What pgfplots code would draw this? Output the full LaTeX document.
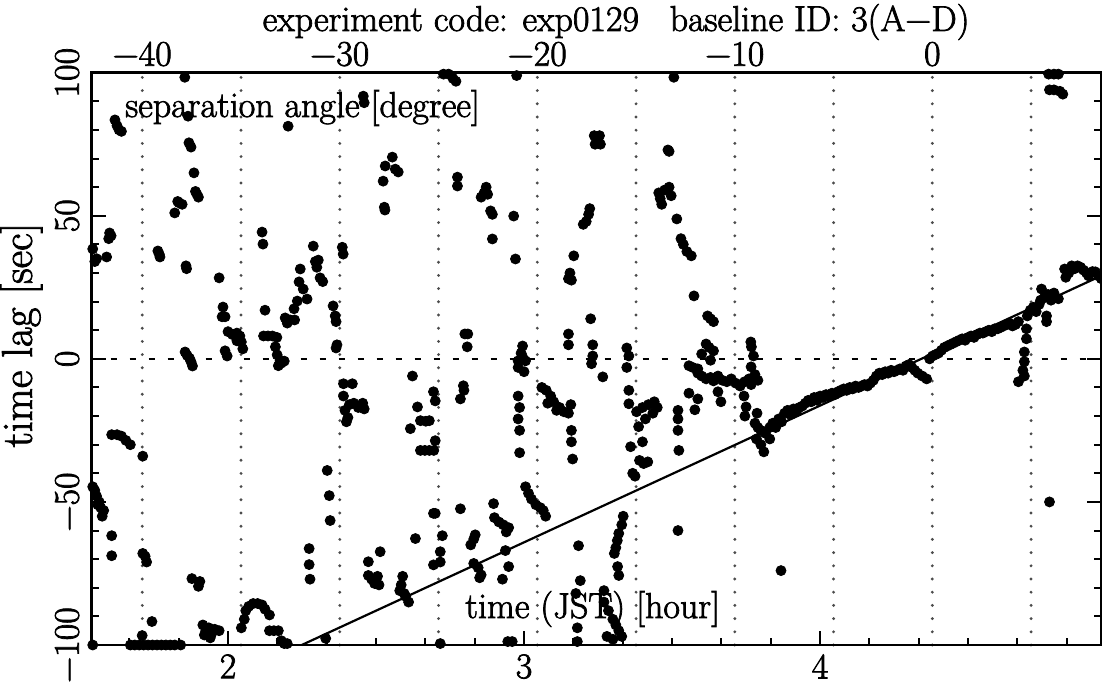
\documentclass[border=0pt]{standalone}
\usepackage{fontspec}
\setmainfont{Latin Modern Roman}[FakeBold=2]
\usepackage{pgfplots}
\pgfplotsset{compat=1.18}
\begin{document}
\fontsize{18}{21}\selectfont
\begin{tikzpicture}
% ---------- top axis: separation angle, dotted grid ----------
\begin{axis}[
  scale only axis, width=504.65pt, height=286.15pt,
  at={(0,0)}, anchor=south west,
  xmin=-42.56, xmax=8.54, ymin=-100, ymax=100,
  axis x line*=top, axis y line=none,
  x axis line style={line width=1.2pt},
  xtick={-40,-35,...,5},
  xticklabels={−40,,−30,,−20,,−10,,0,},
  major tick length=0pt,
  xticklabel style={anchor=south, inner sep=0pt, yshift=3pt},
  xmajorgrids,
  grid style={black!70, line width=1.6pt, line cap=round, dash pattern=on 0pt off 6.6pt},
]
\end{axis}
% ---------- labels inside / outside ----------
\node[anchor=base] at (262.2pt,307pt) {experiment code: exp0129\hspace{0.55em} baseline ID: 3(A−D)};
\node[anchor=base west, inner sep=0pt] at (16.6pt,264pt) {separation angle [degree]};
\node[anchor=base west, inner sep=0pt] at (186.6pt,13.5pt) {time (JST) [hour]};
\node[rotate=90, anchor=center, font=\fontsize{21.5}{24}\selectfont] at (-35.3pt,155pt) {time lag [sec]};
% ---------- main axis ----------
\begin{axis}[
  scale only axis, width=504.65pt, height=286.15pt,
  at={(0,0)}, anchor=south west,
  xmin=1.5395, xmax=4.949, ymin=-100, ymax=100,
  clip=false,
  axis line style={line width=1.3pt},
  tick style={line width=1pt, black},
  tick align=inside,
  xtick pos=bottom, ytick pos=both, yticklabel pos=left,
  xtick={2,3,4}, xticklabels={2,3,4},
  minor xtick={1.6667,1.8333,2.1667,2.3333,2.5,2.6667,2.8333,3.1667,3.3333,3.5,3.6667,3.8333,4.1667,4.3333,4.5,4.6667,4.8333},
  ytick={-100,-50,0,50,100}, yticklabels={−100,−50,0,50,100},
  minor ytick={-90,-80,-70,-60,-40,-30,-20,-10,10,20,30,40,60,70,80,90},
  major tick length=7pt, minor tick length=3.5pt,
  xticklabel style={anchor=north, inner sep=0pt, yshift=-4.5pt},
  yticklabel style={rotate=90, anchor=south, inner xsep=0pt, inner ysep=6pt},
]
\addplot[black, line width=1.3pt, dash pattern=on 3pt off 6.5pt] coordinates {(1.5395,0) (4.949,0)};
\addplot[black, line width=1.1pt] coordinates {(2.249,-100) (4.949,29.0)};
\addplot[only marks, mark=*, mark size=2.5pt, black] coordinates {
(1.543,38.4) (1.55,34) (1.556,35) (1.59,35.6) (1.597,42) (1.60,44) (1.605,43)
(1.618,83.5) (1.625,81.5) (1.632,80) (1.64,79.5)
(1.543,-44.7) (1.55,-46) (1.556,-48) (1.56,-51) (1.57,-52) (1.58,-53) (1.575,-55) (1.565,-50)
(1.607,-61.8) (1.607,-68.8) (1.543,-100)
(1.607,-26.5) (1.625,-26.5) (1.64,-27) (1.655,-28.5) (1.67,-30)
(1.712,-34) (1.712,-68) (1.72,-69) (1.725,-71) (1.743,-91.8) (1.71,-96.7)
(1.67,-100) (1.685,-100) (1.70,-100) (1.715,-100) (1.73,-100) (1.745,-100) (1.76,-100) (1.775,-100) (1.79,-100) (1.805,-100) (1.82,-100) (1.84,-100)
(1.763,37.7) (1.77,35.6) (1.768,36.5)
(1.854,98.4)
(1.865,84.8) (1.868,75.5) (1.875,74) (1.885,65) (1.89,58.5) (1.9,56.5) (1.895,57.5)
(1.83,55) (1.845,54) (1.835,54.5) (1.82,51)
(1.858,32.5) (1.86,31.5)
(1.855,2.4) (1.862,1.2) (1.87,0.2) (1.875,-1) (1.88,-2.5)
(1.878,-76.8) (1.905,-77.8) (1.9,-79.5)
(1.915,-93) (1.925,-95) (1.935,-94) (1.945,-96) (1.955,-94.5) (1.97,-95) (1.92,-96.5) (1.94,-97.5)
(1.97,28.3) (1.983,18.1) (1.98,14.7) (1.99,14.7) (2.0,9.5) (2.015,8.5) (2.03,9) (2.04,8) (2.03,6.3) (2.045,5.9) (2.05,3.5) (1.99,2.8) (1.997,1)
(2.115,44.3) (2.118,40.1) (2.125,17)
(2.12,8) (2.135,8) (2.15,8) (2.165,7.5) (2.16,4.2) (2.166,1.4)
(2.176,-0.5) (2.17,-2.4) (2.18,-1.5) (2.19,-0.8)
(2.203,81.3)
(2.055,-91) (2.06,-88) (2.07,-86.5) (2.085,-85.5) (2.1,-85.5) (2.115,-86) (2.125,-87.5) (2.14,-89.5) (2.045,-94)
(2.14,-95) (2.155,-95) (2.17,-95)
(2.18,-98.5) (2.19,-99.5) (2.2,-99.5)
(2.244,31.4) (2.24,26.9) (2.254,24.4) (2.267,20.9) (2.234,20.2) (2.223,17.5) (2.21,13.6) (2.225,13.6) (2.193,14.3) (2.2,12.5)
(2.288,39.4) (2.295,34) (2.305,34.5) (2.30,32) (2.311,28.3) (2.32,27)
(2.386,39) (2.389,36.6) (2.355,18.5) (2.362,15) (2.365,13) (2.368,4.9) (2.365,3.8)
(2.274,-66.3) (2.274,-71.9) (2.277,-77)
(2.335,-39) (2.342,-47.8) (2.345,-56.5)
(2.33,-97.7)
(2.39,-8.7) (2.42,-8.7)
(2.395,-18) (2.41,-16) (2.425,-15.5) (2.44,-17) (2.455,-15.5) (2.46,-17.5) (2.4,-22) (2.405,-20.5) (2.39,-13)
(2.457,91.8) (2.46,89.5)
(2.555,70.5) (2.531,67.4) (2.565,66.3) (2.575,65.3) (2.524,62.1) (2.528,53) (2.53,52)
(2.474,-70.9) (2.474,-75.7) (2.485,-77) (2.495,-78.5) (2.505,-76) (2.51,-79) (2.514,-67.4)
(2.59,-76) (2.585,-79) (2.58,-81) (2.6,-83) (2.61,-85) (2.595,-82)
(2.623,-6) (2.64,-16.8) (2.65,-21.6) (2.668,-21.8) (2.68,-21.6) (2.616,-24.4)
(2.65,-32) (2.665,-32) (2.68,-32) (2.695,-32)
(2.694,-11.5) (2.694,-54) (2.633,-62.8) (2.694,-72)
(2.70,-14.7) (2.70,-28.6)
(2.728,99.5) (2.745,99.5) (2.76,98) (2.77,97)
(2.775,63.5) (2.775,60.4)
(2.855,56.5) (2.865,58) (2.872,60) (2.877,57.5) (2.887,51.7) (2.893,50.5) (2.893,41.9)
(2.965,49.9) (2.971,34.9) (2.975,99)
(2.80,8.7) (2.81,8.7) (2.808,4.2) (2.795,-9.4) (2.797,-11) (2.785,-14)
(2.995,4.5) (2.995,0.7) (2.98,-0.7) (3.005,-0.7) (2.99,2) (2.98,-3) (3.0,-4.5)
(2.98,-13) (2.98,-21) (2.985,-32.8) (2.985,-17) (2.985,-25)
(2.70,-54) (2.724,-61.8) (2.717,-67.4) (2.717,-71) (2.717,-99.5)
(2.785,-52.4)
(2.82,-65) (2.83,-63) (2.835,-61.5) (2.83,-71.5) (2.845,-73) (2.855,-75.5) (2.85,-76.5)
(2.897,-50.6) (2.9,-55.5) (2.915,-57) (2.93,-58) (2.94,-60.5) (2.948,-59)
(2.937,-67) (2.948,-72.6) (2.927,-77)
(2.945,-98.8) (2.96,-98.8)
(3.005,-44.7) (3.015,-47) (3.025,-49) (3.04,-51) (3.055,-52) (3.065,-53) (3.073,-55)
(3.06,-10) (3.075,-11) (3.09,-13) (3.1,-15) (3.12,-17) (3.135,-18.5) (3.15,-19) (3.158,-16) (3.08,-15.5) (3.11,-18)
(3.16,-25) (3.164,-35) (3.16,-29)
(3.15,28) (3.155,30) (3.168,36) (3.16,27.5)
(3.2,47) (3.21,48) (3.218,50.5) (3.222,52.5)
(3.237,78) (3.255,78) (3.24,75) (3.258,75)
(3.225,14) (3.15,8.7) (3.15,4.9) (3.232,4.9) (3.232,1) (3.228,-1.7)
(3.266,-6.3)
(3.184,-65.3) (3.19,-77.5) (3.175,-82) (3.18,-94) (3.18,-98.8)
(3.27,-81) (3.27,-85) (3.285,-88) (3.3,-91) (3.31,-93) (3.32,-95) (3.33,-97) (3.3,-98) (3.28,-97)
(3.335,-55) (3.33,-58) (3.32,-61) (3.315,-63.5) (3.31,-66) (3.305,-68) (3.316,-72.6) (3.32,-75.7)
(3.347,3.8) (3.354,1) (3.347,-3)
(3.354,-11) (3.354,-15.7) (3.38,-18.5) (3.4,-17) (3.42,-16) (3.44,-15) (3.45,-17) (3.435,-19) (3.41,-21)
(3.387,-23.7) (3.40,-29) (3.36,-30.7) (3.404,-36.6) (3.39,-35.5) (3.418,-36)
(3.367,-40) (3.375,-41)
(3.486,73) (3.49,72.5)
(3.455,58) (3.46,56) (3.465,54) (3.475,59) (3.49,60) (3.497,57)
(3.506,98.4)
(3.516,48.9) (3.53,42) (3.538,40) (3.55,37.5) (3.565,36) (3.574,22)
(3.52,-18) (3.52,-21) (3.523,-32) (3.52,-60) (3.52,-25)
(3.557,-2.4) (3.57,-3) (3.587,-3.5)
(3.587,-5) (3.6,-6) (3.615,-7) (3.63,-6.5) (3.64,-7.7)
(3.557,-12) (3.587,-14) (3.577,-17.8)
(3.62,15) (3.63,14) (3.64,13)
(3.615,5.2) (3.625,4) (3.64,2.8) (3.6,1.7) (3.63,-0.5)
(3.655,-6) (3.67,-7.5) (3.685,-8) (3.7,-7) (3.715,-8.5) (3.73,-9.5) (3.745,-8) (3.76,-7) (3.767,-9)
(3.655,-11.5) (3.665,-15) (3.743,-13) (3.75,-16.8) (3.746,-20) (3.787,-19)
(3.766,5.9) (3.768,4.2) (3.775,1)
(3.767,-2.8) (3.78,-5.5) (3.79,-7.5)
(3.78,-22.5) (3.79,-24) (3.8,-25) (3.815,-26) (3.83,-24) (3.84,-22.5) (3.785,-28) (3.8,-30) (3.81,-32.5) (3.83,-28)
(3.868,-74)
(3.85,-24) (3.86,-21) (3.87,-22) (3.88,-19) (3.89,-18) (3.9,-19.5) (3.91,-17.5) (3.92,-18.5) (3.93,-17) (3.94,-16.5) (3.95,-15.5) (3.96,-14.5) (3.97,-15) (3.98,-13.5) (3.99,-14.5) (4.0,-13) (4.01,-13.5) (4.02,-12.5) (4.03,-13) (4.04,-12) (4.05,-12.5) (4.06,-11.5) (4.07,-11) (4.08,-10.5) (4.09,-11) (4.1,-10) (4.11,-10.5) (4.12,-9.5) (4.13,-10) (4.14,-9.5) (4.15,-9) (4.16,-9.5) (4.17,-8.5) (4.18,-7.5) (4.19,-6) (4.2,-5) (4.21,-5.5) (4.22,-4.5) (4.23,-5) (4.24,-4) (4.25,-4.5) (4.26,-4) (4.27,-3.5) (4.28,-4) (4.29,-2.5) (4.30,-2) (4.31,-3) (4.32,-4) (4.33,-5) (4.345,-6) (4.36,-7)
(4.37,0) (4.38,1) (4.39,1.5) (4.40,2) (4.41,3) (4.42,4) (4.43,4.5) (4.44,5) (4.45,5.5) (4.46,6) (4.47,6.5) (4.48,7) (4.49,6.5) (4.50,7.5) (4.51,8) (4.52,7.5) (4.53,8.5) (4.54,9) (4.55,9) (4.56,9.5) (4.57,10) (4.58,9.5) (4.59,10.5) (4.60,10.5) (4.61,11) (4.62,11.5) (4.63,12) (4.64,12.5) (4.65,11.5) (4.66,12) (4.67,13)
(4.70,15) (4.71,17) (4.72,18) (4.73,16.5) (4.74,19) (4.745,20.5) (4.748,24.4) (4.76,22) (4.77,22.5) (4.78,20.5) (4.805,21) (4.79,23)
(4.826,31.4) (4.83,28.5) (4.84,30) (4.85,32.5) (4.86,31.5) (4.87,32.5) (4.88,32) (4.89,31) (4.9,30) (4.907,29) (4.92,30.5) (4.93,30.4) (4.94,29) (4.95,28)
(4.697,10.5) (4.697,7) (4.69,2.4) (4.69,-1) (4.685,-4) (4.69,-6) (4.67,-8) (4.765,15) (4.765,13)
(4.772,99.5) (4.79,99.5) (4.805,99.5) (4.775,94) (4.79,94) (4.81,93.5) (4.82,92.5)
(4.775,-50)
};
\end{axis}
\pgfresetboundingbox
\path (-45.85pt,-20pt) rectangle (505.15pt,322.5pt);
\end{tikzpicture}
\end{document}
